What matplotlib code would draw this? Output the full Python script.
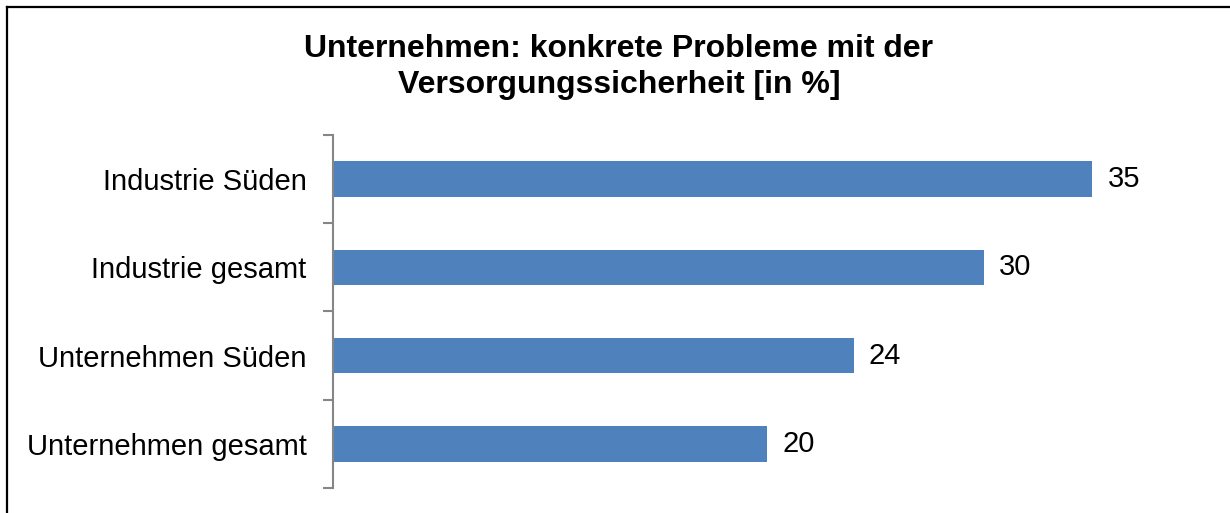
import matplotlib.pyplot as plt
from matplotlib.lines import Line2D

plt.rcParams['font.family'] = ['Liberation Sans', 'DejaVu Sans']

categories = ['Unternehmen gesamt', 'Unternehmen Süden', 'Industrie gesamt', 'Industrie Süden']
values = [20, 24, 30, 35]
title = 'Unternehmen: konkrete Probleme mit der\nVersorgungssicherheit [in %]'

fig = plt.figure(figsize=(12.3, 5.13), dpi=100)
ax = fig.add_axes([0.2707, 0.0487, 0.7054, 0.6887])

bars = ax.barh(range(len(categories)), values, height=0.4, color='#4F81BD')
ax.bar_label(bars, labels=[str(v) for v in values], padding=11, fontsize=21)

ax.set_xlim(0, 40)
ax.set_ylim(-0.5, len(categories) - 0.5)
ax.set_yticks(range(len(categories)))
ax.set_yticklabels(categories, fontsize=21)
ax.tick_params(axis='y', which='major', length=0, pad=19)
ax.set_yticks([i - 0.5 for i in range(len(categories) + 1)], minor=True)
ax.tick_params(axis='y', which='minor', length=7, width=1.5, color='#868686')
ax.set_xticks([])

for s in ['top', 'right', 'bottom']:
    ax.spines[s].set_visible(False)
ax.spines['left'].set_color('#868686')
ax.spines['left'].set_linewidth(1.5)

fig.text(619 / 1230, 1 - 67 / 513, title, ha='center', va='center',
         fontsize=23, fontweight='bold', linespacing=1.28)

# frame at top and left
fig.add_artist(Line2D([7 / 1230, 7 / 1230], [0, 1 - 7 / 513], transform=fig.transFigure,
                      color='black', lw=1.6))
fig.add_artist(Line2D([7 / 1230, 1], [1 - 7 / 513, 1 - 7 / 513], transform=fig.transFigure,
                      color='black', lw=1.6))

fig.savefig('out.png', dpi=100)
